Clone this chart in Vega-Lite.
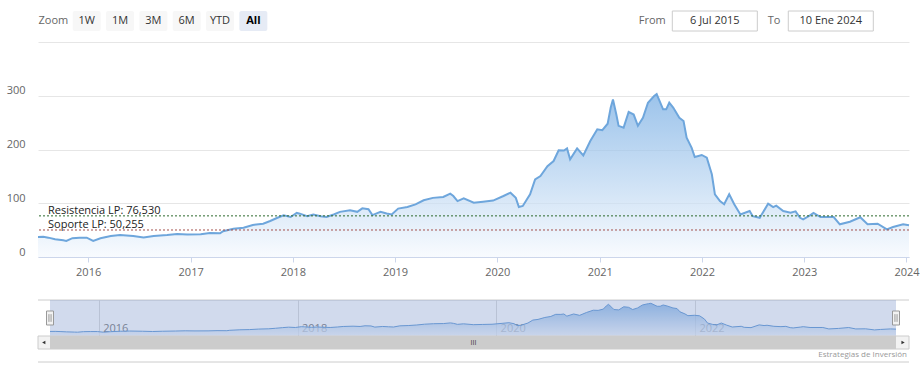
{
  "$schema": "https://vega.github.io/schema/vega-lite/v6.json",
  "padding": {"left": 6, "top": 10, "right": 0, "bottom": 0},
  "background": "white",
  "config": {"view": {"stroke": null}, "font": "Open Sans"},
  "datasets": {
    "series": [
      {"date": "2015-07-06", "value": 37}, {"date": "2015-07-25", "value": 37.5}, {"date": "2015-08-12", "value": 36},
      {"date": "2015-09-05", "value": 33}, {"date": "2015-10-04", "value": 31}, {"date": "2015-10-15", "value": 30},
      {"date": "2015-11-06", "value": 35}, {"date": "2015-12-01", "value": 36}, {"date": "2015-12-27", "value": 36},
      {"date": "2016-01-19", "value": 30}, {"date": "2016-02-14", "value": 35}, {"date": "2016-03-22", "value": 39},
      {"date": "2016-04-24", "value": 41}, {"date": "2016-06-10", "value": 39}, {"date": "2016-07-17", "value": 36.5},
      {"date": "2016-08-22", "value": 39}, {"date": "2016-10-09", "value": 41}, {"date": "2016-11-14", "value": 43},
      {"date": "2016-12-20", "value": 42}, {"date": "2017-02-06", "value": 42.5}, {"date": "2017-03-11", "value": 44.5},
      {"date": "2017-04-16", "value": 44}, {"date": "2017-04-27", "value": 48}, {"date": "2017-06-03", "value": 52.7},
      {"date": "2017-07-09", "value": 54.6}, {"date": "2017-08-11", "value": 59.5}, {"date": "2017-09-17", "value": 62},
      {"date": "2017-10-12", "value": 67}, {"date": "2017-11-07", "value": 73}, {"date": "2017-11-29", "value": 77.5},
      {"date": "2017-12-24", "value": 74.4}, {"date": "2018-01-15", "value": 82}, {"date": "2018-01-26", "value": 80.6},
      {"date": "2018-02-21", "value": 76}, {"date": "2018-03-15", "value": 79}, {"date": "2018-04-10", "value": 76},
      {"date": "2018-05-01", "value": 74.4}, {"date": "2018-05-27", "value": 79}, {"date": "2018-06-18", "value": 84},
      {"date": "2018-07-24", "value": 86.8}, {"date": "2018-08-19", "value": 84}, {"date": "2018-09-06", "value": 90.5},
      {"date": "2018-09-28", "value": 89}, {"date": "2018-10-12", "value": 78}, {"date": "2018-11-10", "value": 84},
      {"date": "2018-12-02", "value": 81}, {"date": "2018-12-20", "value": 79}, {"date": "2019-01-12", "value": 90},
      {"date": "2019-02-14", "value": 93}, {"date": "2019-03-15", "value": 98}, {"date": "2019-04-13", "value": 105.5},
      {"date": "2019-05-16", "value": 110}, {"date": "2019-06-22", "value": 111.6}, {"date": "2019-07-17", "value": 117.8},
      {"date": "2019-07-28", "value": 113.5}, {"date": "2019-08-12", "value": 104}, {"date": "2019-09-03", "value": 109},
      {"date": "2019-10-09", "value": 101}, {"date": "2019-11-11", "value": 103}, {"date": "2019-12-17", "value": 105},
      {"date": "2020-01-23", "value": 113.5}, {"date": "2020-02-17", "value": 119.7}, {"date": "2020-03-07", "value": 110},
      {"date": "2020-03-18", "value": 93}, {"date": "2020-04-01", "value": 95}, {"date": "2020-04-27", "value": 116.6},
      {"date": "2020-05-15", "value": 144.5}, {"date": "2020-06-03", "value": 150.7}, {"date": "2020-06-28", "value": 169},
      {"date": "2020-07-20", "value": 178.6}, {"date": "2020-08-07", "value": 198.5}, {"date": "2020-08-26", "value": 198},
      {"date": "2020-09-06", "value": 202}, {"date": "2020-09-17", "value": 181.7}, {"date": "2020-10-12", "value": 202},
      {"date": "2020-11-03", "value": 189}, {"date": "2020-11-28", "value": 215.8}, {"date": "2020-12-23", "value": 237.5},
      {"date": "2021-01-10", "value": 236}, {"date": "2021-01-29", "value": 248}, {"date": "2021-02-09", "value": 278},
      {"date": "2021-02-17", "value": 293}, {"date": "2021-03-01", "value": 265}, {"date": "2021-03-09", "value": 244},
      {"date": "2021-03-27", "value": 240.6}, {"date": "2021-04-14", "value": 270}, {"date": "2021-05-02", "value": 265},
      {"date": "2021-05-17", "value": 244}, {"date": "2021-06-04", "value": 259}, {"date": "2021-06-22", "value": 287},
      {"date": "2021-07-14", "value": 299.5}, {"date": "2021-07-23", "value": 303}, {"date": "2021-08-15", "value": 274.7},
      {"date": "2021-08-26", "value": 274.7}, {"date": "2021-09-06", "value": 287}, {"date": "2021-09-20", "value": 278},
      {"date": "2021-10-12", "value": 259}, {"date": "2021-10-27", "value": 253}, {"date": "2021-11-07", "value": 222},
      {"date": "2021-11-25", "value": 203}, {"date": "2021-12-06", "value": 186}, {"date": "2021-12-31", "value": 189.8},
      {"date": "2022-01-18", "value": 184.7}, {"date": "2022-02-05", "value": 153.8}, {"date": "2022-02-16", "value": 116.6},
      {"date": "2022-03-06", "value": 104}, {"date": "2022-03-21", "value": 98}, {"date": "2022-04-08", "value": 116.6},
      {"date": "2022-04-26", "value": 98}, {"date": "2022-05-18", "value": 79}, {"date": "2022-06-20", "value": 85.6},
      {"date": "2022-07-01", "value": 76}, {"date": "2022-07-26", "value": 73}, {"date": "2022-08-25", "value": 99},
      {"date": "2022-09-12", "value": 92.7}, {"date": "2022-09-23", "value": 95.5}, {"date": "2022-10-18", "value": 85.6},
      {"date": "2022-11-13", "value": 82.4}, {"date": "2022-12-01", "value": 85}, {"date": "2022-12-17", "value": 73},
      {"date": "2022-12-28", "value": 70}, {"date": "2023-01-23", "value": 78}, {"date": "2023-02-03", "value": 82},
      {"date": "2023-02-28", "value": 74.4}, {"date": "2023-04-16", "value": 74.4}, {"date": "2023-05-08", "value": 60.8},
      {"date": "2023-06-13", "value": 65.7}, {"date": "2023-07-20", "value": 74}, {"date": "2023-08-15", "value": 60.8},
      {"date": "2023-09-20", "value": 62}, {"date": "2023-10-23", "value": 51.5}, {"date": "2023-11-14", "value": 55.8},
      {"date": "2023-12-20", "value": 60.8}, {"date": "2024-01-10", "value": 59}
    ],
    "levels": [
      {"label": "Resistencia LP: 76,530", "level": 76.53},
      {"label": "Soporte LP: 50,255", "level": 50.255}
    ]
  },
  "bounds": "flush",
  "spacing": 11,
  "resolve": {"scale": {"x": "independent", "y": "independent"}},
  "vconcat": [
    {
      "width": 871,
      "height": 20,
      "resolve": {"scale": {"x": "independent"}},
      "layer": [
        {
          "data": {"values": [{"label": "1W"}, {"label": "1M"}, {"label": "3M"}, {"label": "6M"}, {"label": "YTD"}, {"label": "All"}]},
          "mark": {"type": "rect", "cornerRadius": 2},
          "encoding": {
            "x": {"field": "label", "type": "nominal", "scale": {"type": "band", "domain": ["Zoom", "1W", "1M", "3M", "6M", "YTD", "All"], "range": [-1.3, 232], "paddingInner": 0.16, "paddingOuter": 0.08}, "axis": null},
            "fill": {"condition": {"test": "datum.label === 'All'", "value": "#e6ebf5"}, "value": "#f7f7f7"}
          }
        },
        {
          "data": {"values": [{"label": "Zoom"}, {"label": "1W"}, {"label": "1M"}, {"label": "3M"}, {"label": "6M"}, {"label": "YTD"}]},
          "mark": {"type": "text", "fontSize": 11, "baseline": "middle"},
          "encoding": {
            "x": {"field": "label", "type": "nominal", "scale": {"type": "band", "domain": ["Zoom", "1W", "1M", "3M", "6M", "YTD", "All"], "range": [-1.3, 232], "paddingInner": 0.16, "paddingOuter": 0.08}, "axis": null},
            "text": {"field": "label"},
            "color": {"condition": {"test": "datum.label === 'Zoom'", "value": "#666666"}, "value": "#333333"}
          }
        },
        {
          "data": {"values": [{"label": "All"}]},
          "mark": {"type": "text", "fontSize": 11, "fontWeight": "bold", "color": "#000000", "baseline": "middle"},
          "encoding": {
            "x": {"field": "label", "type": "nominal", "scale": {"type": "band", "domain": ["Zoom", "1W", "1M", "3M", "6M", "YTD", "All"], "range": [-1.3, 232], "paddingInner": 0.16, "paddingOuter": 0.08}, "axis": null},
            "text": {"field": "label"}
          }
        },
        {
          "data": {"values": [{"t": "From"}, {"t": "To"}]},
          "mark": {"type": "text", "fontSize": 11, "baseline": "middle", "color": "#666666"},
          "encoding": {
            "x": {"field": "t", "type": "nominal", "scale": {"type": "point", "domain": ["From", "To"], "range": [614.3, 736], "padding": 0}, "axis": null},
            "text": {"field": "t"}
          }
        },
        {
          "data": {"values": [{"k": "from", "v": "6 Jul 2015"}, {"k": "to", "v": "10 Ene 2024"}]},
          "mark": {"type": "rect", "fill": "#ffffff", "stroke": "#cccccc", "strokeWidth": 1},
          "encoding": {
            "x": {"field": "k", "type": "nominal", "scale": {"type": "band", "domain": ["from", "to"], "range": [634.3, 835.3], "paddingInner": 0.267, "paddingOuter": 0}, "axis": null}
          }
        },
        {
          "data": {"values": [{"k": "from", "v": "6 Jul 2015"}, {"k": "to", "v": "10 Ene 2024"}]},
          "mark": {"type": "text", "fontSize": 11, "baseline": "middle", "color": "#333333"},
          "encoding": {
            "x": {"field": "k", "type": "nominal", "scale": {"type": "band", "domain": ["from", "to"], "range": [634.3, 835.3], "paddingInner": 0.267, "paddingOuter": 0}, "axis": null},
            "text": {"field": "v"}
          }
        }
      ]
    },
    {
      "bounds": "flush",
      "spacing": 43,
      "resolve": {"scale": {"x": "independent", "y": "independent"}},
      "vconcat": [
        {
          "width": 871,
          "height": 215,
          "layer": [
            {
              "data": {"name": "series"},
              "mark": {
                "type": "area",
                "color": {"gradient": "linear", "x1": 0, "y1": 0, "x2": 0, "y2": 1, "stops": [{"offset": 0, "color": "#72aae2"}, {"offset": 1, "color": "#f5f9fe"}]},
                "line": {"color": "#6ea6dc", "strokeWidth": 2}
              },
              "encoding": {
                "x": {
                  "field": "date", "type": "temporal",
                  "scale": {"domain": [{"year": 2015, "month": 7, "date": 6}, {"year": 2024, "month": 1, "date": 10}], "nice": false},
                  "axis": {"title": null, "format": "%Y", "tickCount": {"interval": "year", "step": 1}, "grid": false, "domainColor": "#ccd6eb", "tickColor": "#ccd6eb", "tickSize": 5, "labelColor": "#666666", "labelFontSize": 11, "labelPadding": 4, "labelFlush": false, "labelOverlap": false}
                },
                "y": {
                  "field": "value", "type": "quantitative",
                  "scale": {"domain": [0, 400], "nice": false},
                  "axis": {"title": null, "values": [0, 100, 200, 300, 400], "labelExpr": "datum.value >= 400 ? '' : datum.label", "grid": true, "gridColor": "#e6e6e6", "domain": false, "ticks": false, "labelPadding": 13, "labelOffset": -5, "labelColor": "#666666", "labelFontSize": 11}
                }
              }
            },
            {
              "data": {"name": "levels"},
              "mark": {"type": "rule", "strokeDash": [2, 2], "strokeWidth": 1},
              "encoding": {
                "y": {"field": "level", "type": "quantitative"},
                "color": {"field": "label", "type": "nominal", "scale": {"domain": ["Resistencia LP: 76,530", "Soporte LP: 50,255"], "range": ["#2d6a2d", "#a3504d"]}, "legend": null}
              }
            },
            {
              "data": {"name": "levels"},
              "mark": {"type": "text", "align": "left", "baseline": "alphabetic", "dx": 10, "dy": -2, "fontSize": 11, "color": "#222222"},
              "encoding": {
                "x": {"datum": {"year": 2015, "month": 7, "date": 6}, "type": "temporal"},
                "y": {"field": "level", "type": "quantitative"},
                "text": {"field": "label"}
              }
            }
          ]
        },
        {
          "bounds": "flush",
          "spacing": 0,
          "resolve": {"scale": {"x": "independent", "y": "independent"}},
          "vconcat": [
            {
              "width": 871,
              "height": 36,
              "layer": [
                {
                  "data": {"values": [{}]},
                  "mark": {"type": "rule", "color": "#cccccc"},
                  "encoding": {"y": {"value": 0}}
                },
                {
                  "data": {"name": "series"},
                  "mark": {
                    "type": "area",
                    "color": {"gradient": "linear", "x1": 0, "y1": 0, "x2": 0, "y2": 1, "stops": [{"offset": 0, "color": "#74aae2"}, {"offset": 1, "color": "#eef4fb"}]},
                    "line": {"color": "#6a9fd8", "strokeWidth": 1}
                  },
                  "encoding": {
                    "x": {
                      "field": "date", "type": "temporal",
                      "scale": {"domain": [{"year": 2015, "month": 7, "date": 6}, {"year": 2024, "month": 1, "date": 10}], "range": [12, 858], "nice": false},
                      "axis": {"title": null, "orient": "bottom", "values": [{"year": 2016, "month": 1, "date": 1}, {"year": 2018, "month": 1, "date": 1}, {"year": 2020, "month": 1, "date": 1}, {"year": 2022, "month": 1, "date": 1}], "format": "%Y", "grid": true, "gridColor": "#dddddd", "domain": false, "ticks": false, "tickSize": 0, "labelAlign": "left", "labelBaseline": "middle", "labelPadding": -8, "labelOffset": 4, "labelColor": "#7f7f7f", "labelFontSize": 11, "labelFlush": false}
                    },
                    "y": {"field": "value", "type": "quantitative", "scale": {"domain": [-6, 334], "nice": false, "zero": false}, "axis": null}
                  }
                },
                {
                  "data": {"values": [{}]},
                  "mark": {"type": "rect", "fill": "#6685c2", "fillOpacity": 0.3},
                  "encoding": {
                    "x": {"datum": {"year": 2015, "month": 7, "date": 6}, "type": "temporal"},
                    "x2": {"datum": {"year": 2024, "month": 1, "date": 10}}
                  }
                },
                {
                  "data": {"values": [{}]},
                  "mark": {"type": "point", "shape": "M-0.5,-1H0.5V1H-0.5ZM-0.15,-0.55V0.55M0.15,-0.55V0.55", "size": 196, "filled": true, "fill": "#f2f2f2", "stroke": "#999999", "strokeWidth": 1, "opacity": 1},
                  "encoding": {
                    "x": {"datum": {"year": 2015, "month": 7, "date": 6}, "type": "temporal"}
                  }
                },
                {
                  "data": {"values": [{}]},
                  "mark": {"type": "point", "shape": "M-0.5,-1H0.5V1H-0.5ZM-0.15,-0.55V0.55M0.15,-0.55V0.55", "size": 196, "filled": true, "fill": "#f2f2f2", "stroke": "#999999", "strokeWidth": 1, "opacity": 1},
                  "encoding": {
                    "x": {"datum": {"year": 2024, "month": 1, "date": 10}, "type": "temporal"}
                  }
                }
              ]
            },
            {
              "width": 871,
              "height": 13,
              "layer": [
                {
                  "data": {"values": [{}]},
                  "mark": {"type": "rect", "fill": "#f2f2f2", "stroke": "#cccccc", "strokeWidth": 1},
                  "encoding": {}
                },
                {
                  "data": {"values": [{}]},
                  "mark": {"type": "rect", "fill": "#cccccc"},
                  "encoding": {
                    "x": {"datum": {"year": 2015, "month": 7, "date": 6}, "type": "temporal", "scale": {"domain": [{"year": 2015, "month": 7, "date": 6}, {"year": 2024, "month": 1, "date": 10}], "range": [12, 858], "nice": false}, "axis": null},
                    "x2": {"datum": {"year": 2024, "month": 1, "date": 10}}
                  }
                },
                {
                  "data": {"values": [{"g": "III"}]},
                  "mark": {"type": "text", "fontSize": 7, "color": "#333333", "baseline": "middle"},
                  "encoding": {"text": {"field": "g"}}
                },
                {
                  "data": {"values": [{}]},
                  "mark": {"type": "point", "shape": "triangle-left", "size": 14, "filled": true, "color": "#333333", "opacity": 1},
                  "encoding": {"x": {"datum": {"year": 2015, "month": 6, "date": 13}, "type": "temporal"}}
                },
                {
                  "data": {"values": [{}]},
                  "mark": {"type": "point", "shape": "triangle-right", "size": 14, "filled": true, "color": "#333333", "opacity": 1},
                  "encoding": {"x": {"datum": {"year": 2024, "month": 2, "date": 5}, "type": "temporal"}}
                }
              ]
            },
            {
              "width": 871,
              "height": 13,
              "layer": [
                {
                  "data": {"values": [{"t": "Estrategias de Inversión"}]},
                  "mark": {"type": "text", "align": "right", "baseline": "middle", "fontSize": 8, "color": "#999999", "x": "width", "dx": -2, "dy": -1},
                  "encoding": {"text": {"field": "t"}}
                },
                {
                  "data": {"values": [{}]},
                  "mark": {"type": "rule", "color": "#cccccc"},
                  "encoding": {"y": {"value": "height"}}
                }
              ]
            }
          ]
        }
      ]
    }
  ]
}
